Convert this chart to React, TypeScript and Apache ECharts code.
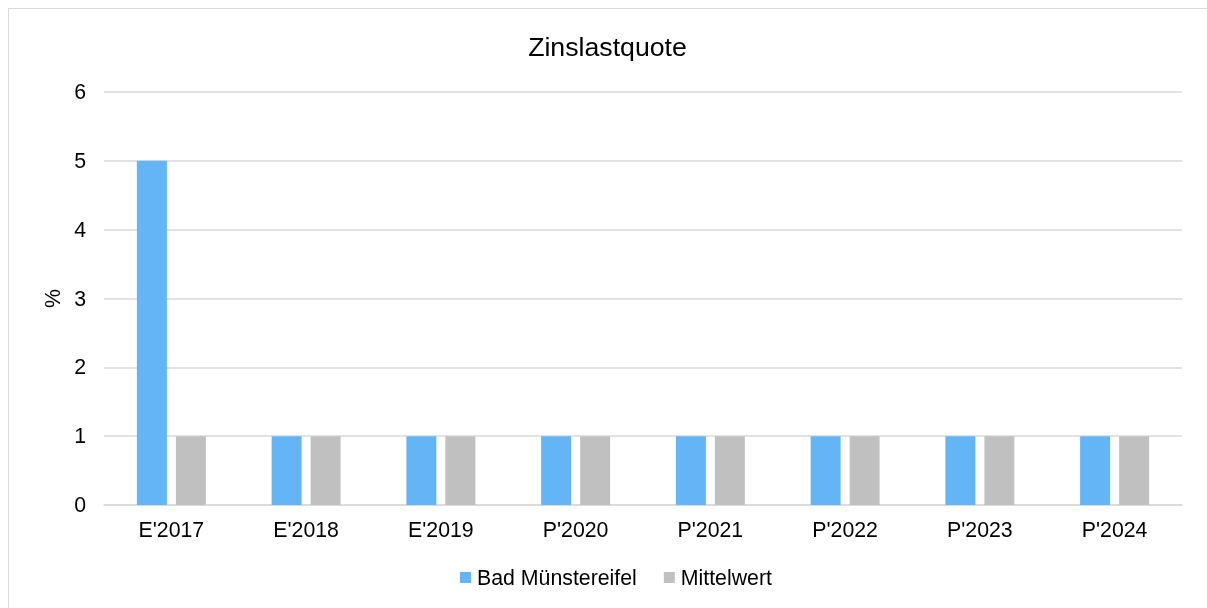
import React, { useEffect, useRef } from "react";
import * as echarts from "echarts";

const categories = ["E'2017", "E'2018", "E'2019", "P'2020", "P'2021", "P'2022", "P'2023", "P'2024"];
const badMuenstereifel = [5, 1, 1, 1, 1, 1, 1, 1];
const mittelwert = [1, 1, 1, 1, 1, 1, 1, 1];
const yTicks = [0, 1, 2, 3, 4, 5, 6];

const FONT = "Liberation Sans, Arial, sans-serif";

export default function App() {
  const ref = useRef<HTMLDivElement>(null);
  useEffect(() => {
    if (!ref.current) return;
    const chart = echarts.init(ref.current, null, { renderer: "svg" });
    chart.setOption({
      animation: false,
      title: {
        text: "Zinslastquote",
        left: "center",
        top: 20,
        textStyle: { fontFamily: FONT, fontSize: 26.7, fontWeight: "normal", color: "#000" },
      },
      legend: {
        bottom: 15,
        left: 447,
        itemWidth: 11,
        itemHeight: 11,
        itemGap: 27,
        icon: "rect",
        textStyle: { fontFamily: FONT, fontSize: 21.3, color: "#000", padding: [0, 0, 0, 1] },
        data: ["Bad Münstereifel", "Mittelwert"],
      },
      grid: { left: 96, right: 25, top: 84, bottom: 103 },
      xAxis: {
        type: "category",
        data: categories,
        axisLine: { lineStyle: { color: "#d9d9d9", width: 1.5 } },
        axisTick: { show: false },
        axisLabel: { fontFamily: FONT, fontSize: 21.3, color: "#000", margin: 14 },
      },
      yAxis: {
        type: "value",
        min: yTicks[0],
        max: yTicks[yTicks.length - 1],
        interval: 1,
        name: "%",
        nameLocation: "middle",
        nameGap: 36,
        nameRotate: 90,
        nameTextStyle: { fontFamily: FONT, fontSize: 21.3, color: "#000" },
        axisLine: { show: false },
        axisTick: { show: false },
        axisLabel: { fontFamily: FONT, fontSize: 21.3, color: "#000", margin: 18 },
        splitLine: { lineStyle: { color: "#d9d9d9", width: 1.5 } },
      },
      series: [
        {
          name: "Bad Münstereifel",
          type: "bar",
          data: badMuenstereifel,
          barWidth: 30,
          barGap: "30%",
          itemStyle: { color: "#63b5f6" },
        },
        {
          name: "Mittelwert",
          type: "bar",
          data: mittelwert,
          barWidth: 30,
          barGap: "30%",
          itemStyle: { color: "#c0c0c0" },
        },
      ],
    });
    return () => chart.dispose();
  }, []);
  return (
    <div style={{ position: "fixed", left: 8, top: 8, width: 1199, height: 600, overflow: "hidden" }}>
      <div
        style={{
          position: "absolute",
          left: -1,
          top: -1,
          width: 1230,
          height: 630,
          boxSizing: "border-box",
          border: "2px solid #d9d9d9",
        }}
      />
      <div ref={ref} style={{ position: "absolute", left: 0, top: 0, width: 1199, height: 600 }} />
    </div>
  );
}
